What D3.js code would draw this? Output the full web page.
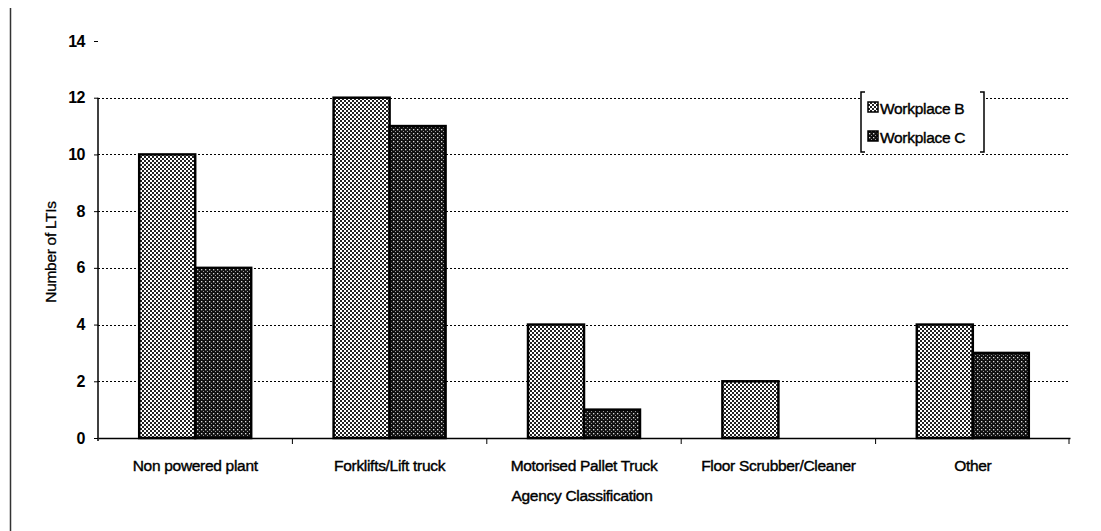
<!DOCTYPE html>
<html><head><meta charset="utf-8">
<script src="https://cdn.jsdelivr.net/npm/d3@7/dist/d3.min.js"></script>
<style>body{margin:0;background:#fff}svg{display:block}text{font-family:"Liberation Sans",Arial,sans-serif;fill:#000}</style>
</head><body><svg id="c" width="1101" height="531"></svg>
<script>
const categories = ["Non powered plant","Forklifts/Lift truck","Motorised Pallet Truck","Floor Scrubber/Cleaner","Other"];
const seriesNames = ["Workplace B","Workplace C"];
const workplaceB = [10,12,4,2,4];
const workplaceC = [6,11,1,0,3];
const yTicks = [0,2,4,6,8,10,12,14];

const svg = d3.select("#c");
const defs = svg.append("defs");
const pB = defs.append("pattern").attr("id","pB").attr("patternUnits","userSpaceOnUse").attr("width",4).attr("height",4);
pB.append("rect").attr("width",4).attr("height",4).attr("fill","#fff");
pB.append("rect").attr("width",2).attr("height",2).attr("fill","#222");
pB.append("rect").attr("x",2).attr("y",2).attr("width",2).attr("height",2).attr("fill","#222");
const pC = defs.append("pattern").attr("id","pC").attr("patternUnits","userSpaceOnUse").attr("width",4).attr("height",4);
pC.append("rect").attr("width",4).attr("height",4).attr("fill","#111");
pC.append("rect").attr("x",1).attr("y",1).attr("width",1.3).attr("height",1.3).attr("fill","#ddd");
pC.append("rect").attr("x",3).attr("y",3).attr("width",1).attr("height",1).attr("fill","#999");
const fills = ["url(#pB)","url(#pC)"];

const x0 = 98, x1 = 1070, yTop = 41, yBot = 438;
const x = d3.scaleBand().domain(categories).range([x0,x1]).paddingInner(0).paddingOuter(0);
const xs = d3.scaleBand().domain(seriesNames).range([0,x.bandwidth()]).paddingInner(0).paddingOuter(0.736);
const y = d3.scaleLinear().domain([0,14]).range([yBot,yTop]);

// page border line on left
svg.append("line").attr("x1",10.5).attr("x2",10.5).attr("y1",8).attr("y2",531).attr("stroke","#333").attr("stroke-width",1.5);

// gridlines
svg.append("g").selectAll("line").data(yTicks.filter(t=>t>0&&t<14)).join("line")
  .attr("x1",x0).attr("x2",x1).attr("y1",d=>Math.round(y(d))+0.5).attr("y2",d=>Math.round(y(d))+0.5)
  .attr("stroke","#000").attr("stroke-width",1).attr("stroke-dasharray","2,2");

// y axis
const yAxis = svg.append("g").attr("transform",`translate(${x0},0)`)
  .call(d3.axisLeft(y).tickValues(yTicks).tickSize(4).tickPadding(9).tickFormat(d3.format("d")));
yAxis.select(".domain").attr("d",`M0,${y(12)}V${yBot+3}`).attr("stroke","#000").attr("stroke-width",1.5);
yAxis.selectAll(".tick line").attr("stroke","#000");
yAxis.selectAll("text").attr("font-size",16).attr("font-weight","bold").attr("letter-spacing",-0.5).style("font-family","Liberation Sans, Arial");

// bars
const g = svg.append("g");
categories.forEach((c,i)=>{
  [workplaceB[i],workplaceC[i]].forEach((v,j)=>{
    if(v<=0) return;
    g.append("rect").attr("x",x(c)+xs(seriesNames[j])).attr("y",y(v)).attr("width",xs.bandwidth()).attr("height",yBot-y(v))
      .attr("fill",fills[j]).attr("stroke","#000").attr("stroke-width",2.5);
  });
});

// x axis
const xAxis = svg.append("g").attr("transform",`translate(0,${yBot})`)
  .call(d3.axisBottom(x).tickSize(0).tickPadding(0));
xAxis.select(".domain").attr("stroke","#000").attr("stroke-width",1.5);
xAxis.selectAll("text").attr("dy",null).attr("y",33).attr("font-size",15.5).attr("stroke","#000").attr("stroke-width",0.4).attr("letter-spacing",-0.3).style("font-family","Liberation Sans, Arial");
svg.append("g").selectAll("line").data(categories.slice(1).concat(["end"])).join("line")
  .attr("x1",(d,i)=>i<4?x(d):x1-1).attr("x2",(d,i)=>i<4?x(d):x1-1).attr("y1",yBot).attr("y2",yBot+6).attr("stroke","#000");

// axis titles
svg.append("text").attr("x",582).attr("y",501).attr("text-anchor","middle").attr("font-size",15.5).attr("stroke","#000").attr("stroke-width",0.4).attr("letter-spacing",-0.3).text("Agency Classification");
svg.append("text").attr("transform","translate(56,252) rotate(-90)").attr("text-anchor","middle").attr("font-size",15.5).attr("stroke","#000").attr("stroke-width",0.3).attr("letter-spacing",-0.3).text("Number of LTIs");

// legend
const lg = svg.append("g");
lg.append("rect").attr("x",860).attr("y",90).attr("width",126).attr("height",63).attr("fill","#fff").attr("stroke","none");
lg.append("path").attr("d","M865,92H861V152H865").attr("fill","none").attr("stroke","#000").attr("stroke-width",1.5);
lg.append("path").attr("d","M980,92H984V152H980").attr("fill","none").attr("stroke","#000").attr("stroke-width",1.5);
seriesNames.forEach((s,i)=>{
  const yy = 102 + i*29;
  lg.append("rect").attr("x",868).attr("y",yy).attr("width",10).attr("height",10).attr("fill",fills[i]).attr("stroke","#000").attr("stroke-width",1.5);
  lg.append("text").attr("x",880).attr("y",yy+12).attr("font-size",15.5).attr("stroke","#000").attr("stroke-width",0.4).attr("letter-spacing",-0.3).text(s);
});
</script></body></html>
